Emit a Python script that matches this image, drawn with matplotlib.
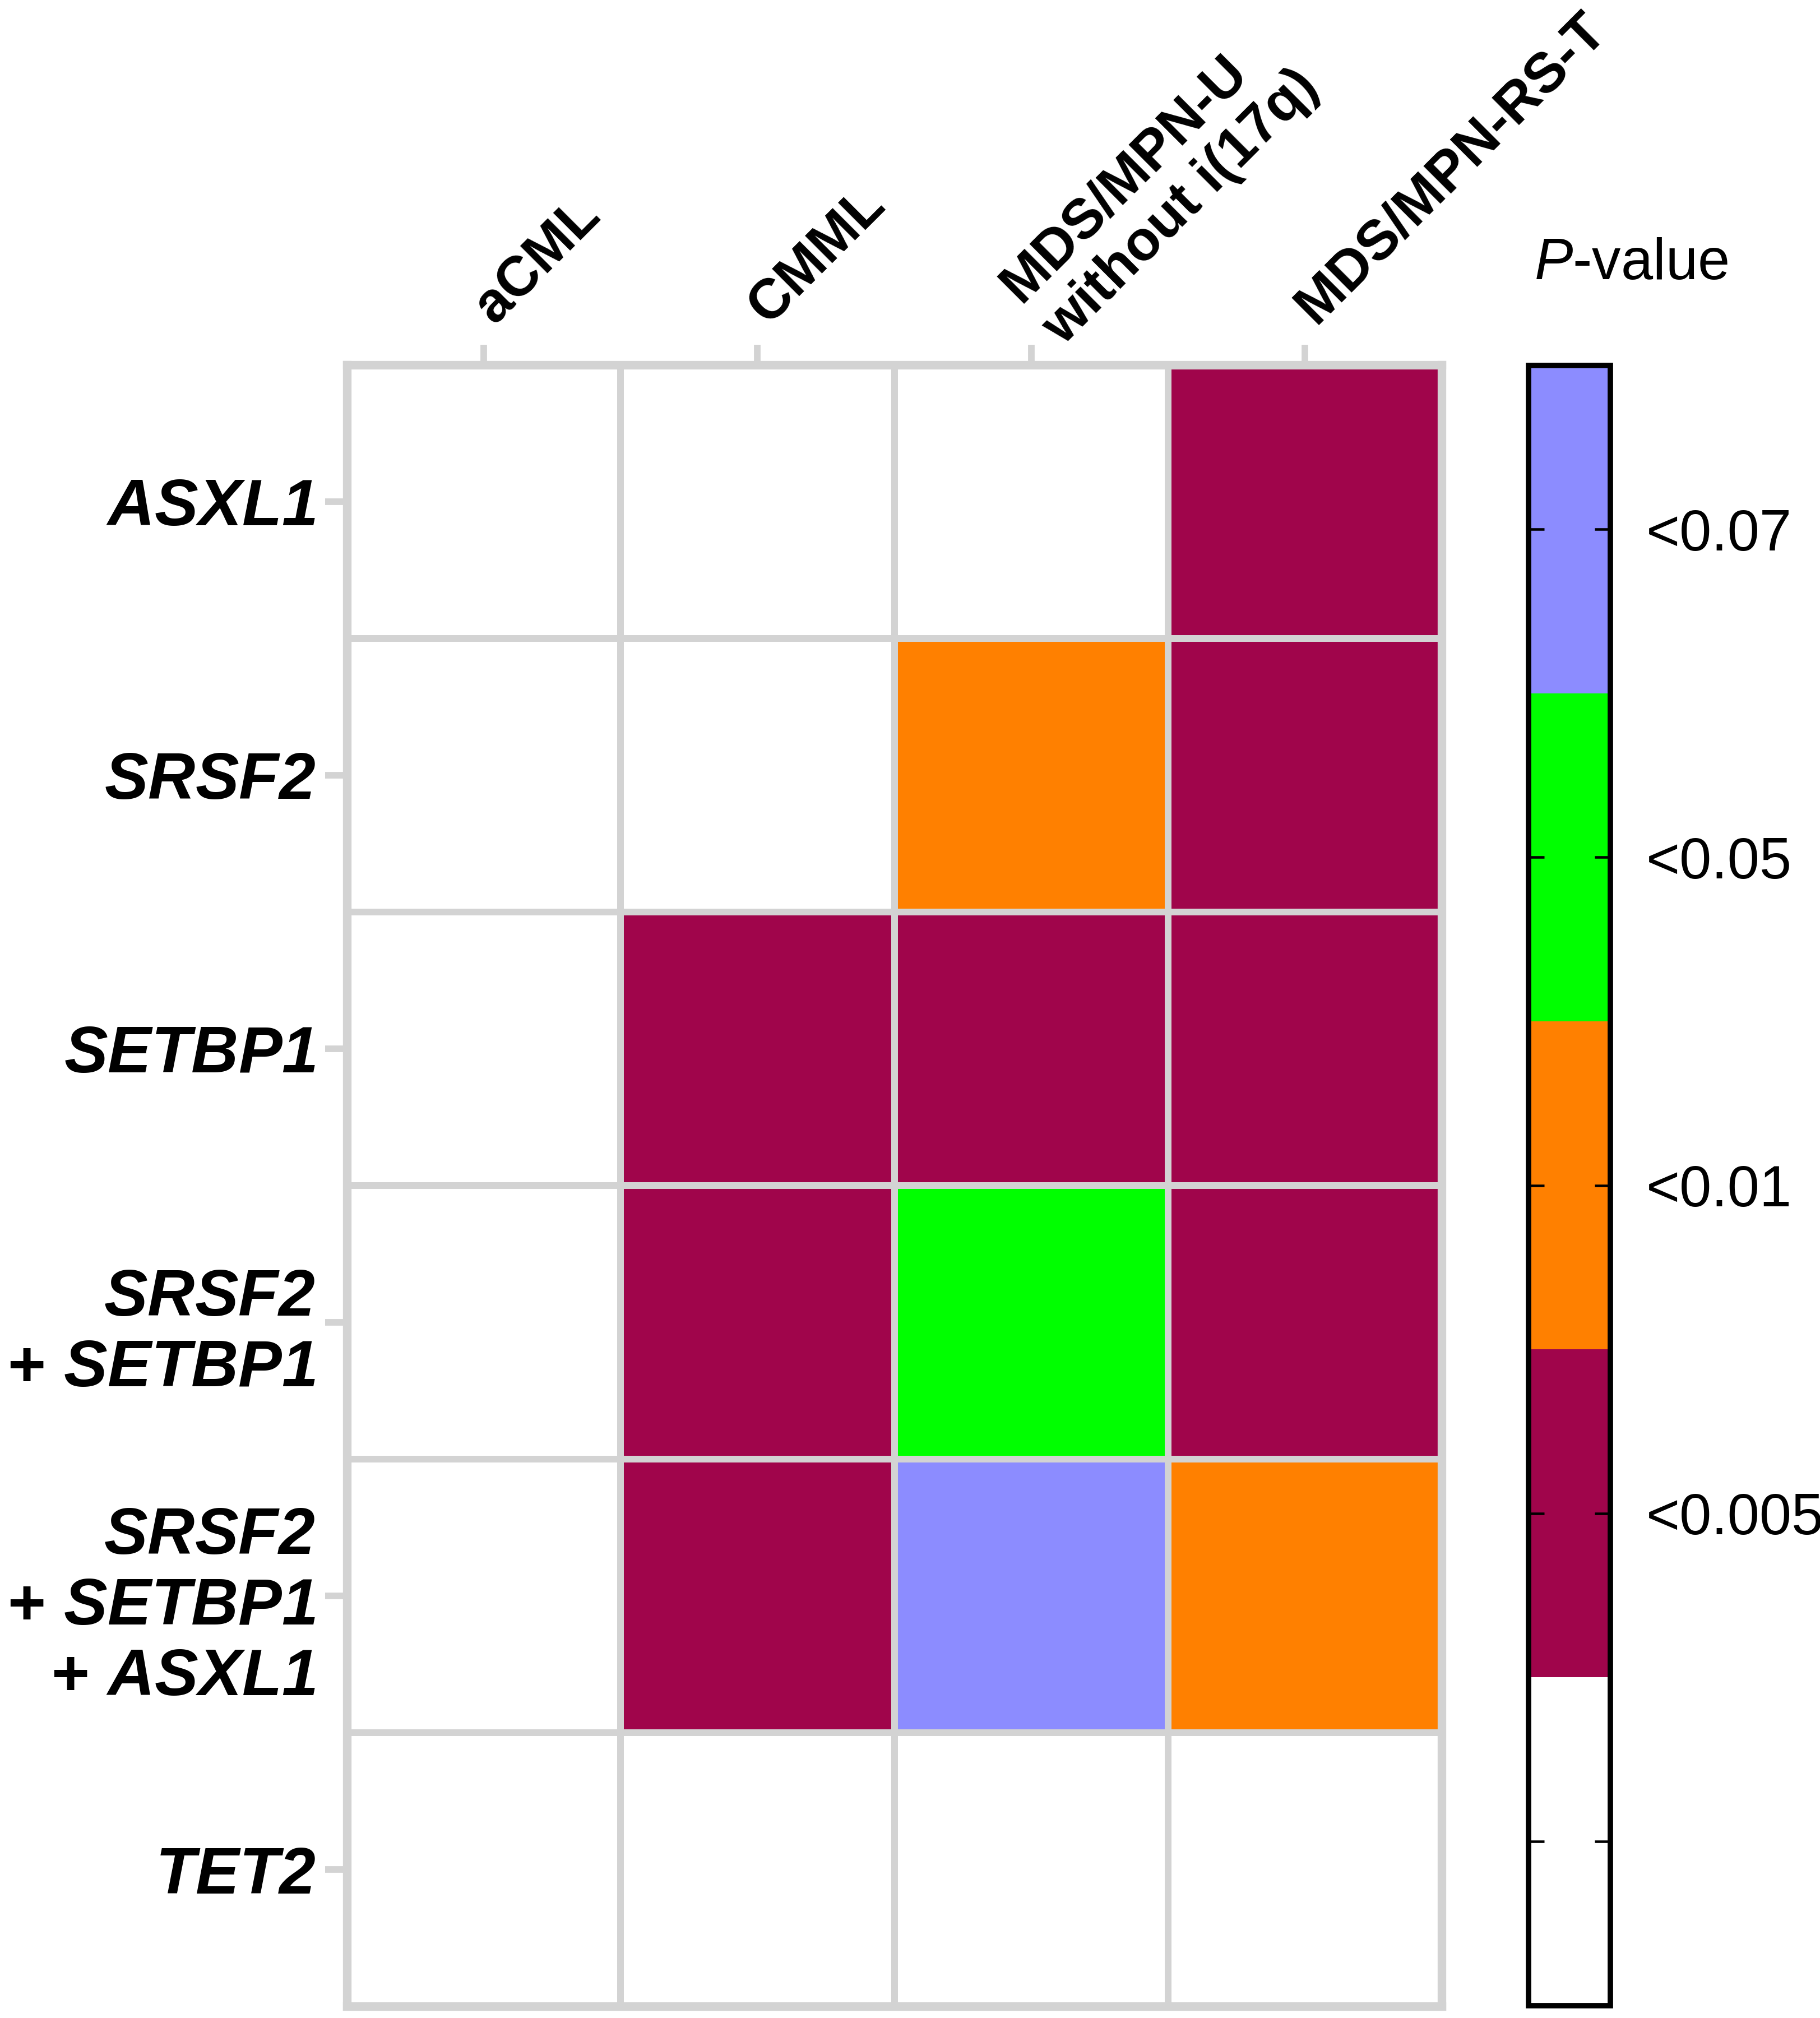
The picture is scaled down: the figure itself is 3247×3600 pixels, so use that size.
"""P-value heatmap: gene mutations vs MDS/MPN subtypes."""

import matplotlib

matplotlib.use("Agg")
import matplotlib.pyplot as plt
import numpy as np
from matplotlib.colors import BoundaryNorm, ListedColormap

# --- data -------------------------------------------------------------
subtypes = ["aCML", "CMML", "MDS/MPN-U\nwithout i(17q)", "MDS/MPN-RS-T"]
genes = [
    ["ASXL1"],
    ["SRSF2"],
    ["SETBP1"],
    ["SRSF2", "SETBP1"],
    ["SRSF2", "SETBP1", "ASXL1"],
    ["TET2"],
]
p_levels = ["", "<0.005", "<0.01", "<0.05", "<0.07"]
level_colors = ["#FFFFFF", "#A0054B", "#FF8000", "#00FF00", "#8C8CFF"]
# 0 = not significant, 1 = <0.005, 2 = <0.01, 3 = <0.05, 4 = <0.07
significance = [
    [0, 0, 0, 1],
    [0, 0, 2, 1],
    [0, 1, 1, 1],
    [0, 1, 3, 1],
    [0, 1, 4, 2],
    [0, 0, 0, 0],
]

plt.rcParams["font.family"] = ["Liberation Sans", "DejaVu Sans"]
plt.rcParams["mathtext.fontset"] = "custom"
plt.rcParams["mathtext.rm"] = "Liberation Sans:bold"
plt.rcParams["mathtext.it"] = "Liberation Sans:italic"
plt.rcParams["mathtext.bfit"] = "Liberation Sans:bold:italic"

GRID = "#D3D3D3"


def _gene_label(parts: list[str]) -> str:
    first = r"$\mathbfit{%s}$" % parts[0]
    if len(parts) > 1:
        # the original keeps a trailing gap after the first gene
        first += "\u00a0"
    lines = [first]
    for p in parts[1:]:
        lines.append(r"$\mathrm{+}$ $\mathbfit{%s}$" % p)
    return "\n".join(lines)


fig = plt.figure(figsize=(32.48, 36), dpi=100)
ax = fig.add_axes([0.1905, 0.0058, 0.6015, 0.8135])
cax = fig.add_axes([0.8395, 0.0062, 0.0450, 0.8128])

cmap = ListedColormap(level_colors)
norm = BoundaryNorm(np.arange(-0.5, len(level_colors) + 0.5), cmap.N)

data = np.array(significance)
ax.pcolormesh(data, cmap=cmap, norm=norm, edgecolors=GRID, linewidth=8.5)
ax.set_xlim(0, data.shape[1])
ax.set_ylim(data.shape[0], 0)

for s in ax.spines.values():
    s.set_color(GRID)
    s.set_linewidth(11)

ax.xaxis.tick_top()
ax.set_xticks(np.arange(data.shape[1]) + 0.5)
ax.set_xticklabels(subtypes, rotation=45, ha="left", va="center",
                   rotation_mode="anchor", fontsize=72, fontweight="bold",
                   multialignment="left")
ax.set_yticks(np.arange(data.shape[0]) + 0.5)
ax.set_yticklabels([_gene_label(g) for g in genes], fontsize=84,
                   fontweight="bold", multialignment="right")
ax.tick_params(axis="x", length=26, width=8.5, color=GRID, pad=38)
ax.tick_params(axis="y", length=28, width=8.5, color=GRID, pad=12)

# --- colour key -------------------------------------------------------
cbar = fig.colorbar(
    matplotlib.cm.ScalarMappable(norm=norm, cmap=cmap), cax=cax,
    ticks=np.arange(len(level_colors)),
)
cbar.set_ticklabels(p_levels)
cbar.outline.set_linewidth(7)
cbar.outline.set_edgecolor("black")
cax.tick_params(left=True, right=True, direction="in", length=20, width=3.3,
                labelsize=74, pad=46)
fig.text(0.896, 0.869, r"$\mathit{P}$-value", fontsize=74, ha="center",
         va="center")

fig.savefig("out.png", dpi=100)
